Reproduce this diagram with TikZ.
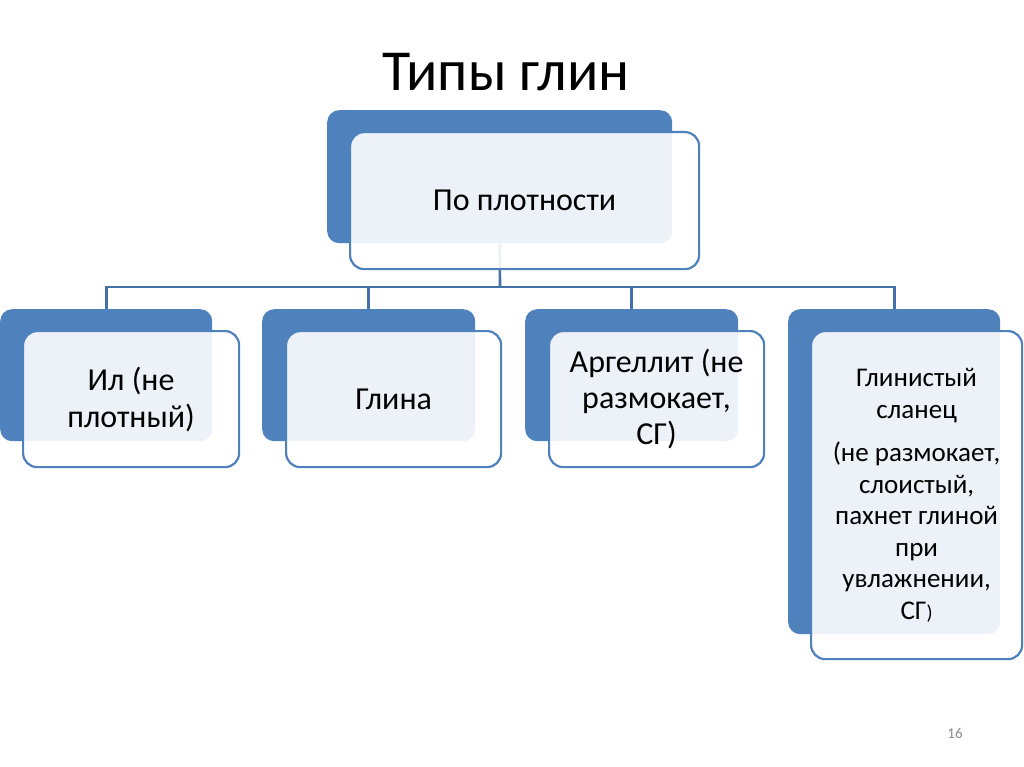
\documentclass[tikz,border=0pt]{standalone}
\usepackage{fontspec}
\setmainfont{Carlito}
\definecolor{accent}{HTML}{4F81BD}
\definecolor{connc}{HTML}{4471A8}
\definecolor{pgnum}{HTML}{8C8C8C}
\begin{document}
\begin{tikzpicture}[x=1pt,y=-1pt,
  backbox/.style={draw=none,fill=accent,rounded corners=12pt,inner sep=0pt,anchor=north west},
  frontbox/.style={draw=accent,line width=2.2pt,fill=white,fill opacity=0.9,text opacity=1,
    rounded corners=14pt,inner sep=0pt,anchor=north west,align=center},
  conn/.style={draw=connc,line width=2.6pt},
  bodytext/.style={font=\fontsize{32}{37}\selectfont}
]
\useasboundingbox (0,0) rectangle (1024,767);
\fill[white] (0,0) rectangle (1024,767);
% title
\node[font=\fontsize{58}{68}\selectfont] (title) at (506,72) {Типы глин};
% back boxes
\node[backbox,minimum width=345pt,minimum height=133pt] (pb) at (327,110) {};
\node[backbox,minimum width=212pt,minimum height=132pt] (cb1) at (0,309) {};
\node[backbox,minimum width=213pt,minimum height=132pt] (cb2) at (262,309) {};
\node[backbox,minimum width=213pt,minimum height=132pt] (cb3) at (525,309) {};
\node[backbox,minimum width=212pt,minimum height=325pt] (cb4) at (788,309) {};
% connectors
\coordinate (bus) at (500,287);
\draw[conn] (pb.south) -- (bus);
\draw[conn] (bus) -| (cb1.north);
\draw[conn] (bus) -| (cb2.north);
\draw[conn] (bus) -| (cb3.north);
\draw[conn] (bus) -| (cb4.north);
% front boxes
\node[frontbox,minimum width=349pt,minimum height=137pt,bodytext] (pf) at (349,131) {По плотности};
\node[frontbox,minimum width=216pt,minimum height=136pt,bodytext] (cf1) at (22,330) {Ил (не\\плотный)};
\node[frontbox,minimum width=215pt,minimum height=136pt,bodytext] (cf2) at (285,330) {Глина};
\node[frontbox,minimum width=215pt,minimum height=136pt,font=\fontsize{32}{36}\selectfont] (cf3) at (548,330) {Аргеллит (не\\размокает,\\СГ)};
\node[frontbox,minimum width=211pt,minimum height=328pt,font=\fontsize{27}{31.5}\selectfont] (cf4) at (810,330)
  {Глинистый\\сланец\\[12pt](не размокает,\\слоистый,\\пахнет глиной\\при\\увлажнении,\\СГ{\fontsize{20}{31}\selectfont)}};
% page number
\node[font=\fontsize{15}{17}\selectfont,text=pgnum] (pnum) at (955,733) {16};
\end{tikzpicture}
\end{document}
